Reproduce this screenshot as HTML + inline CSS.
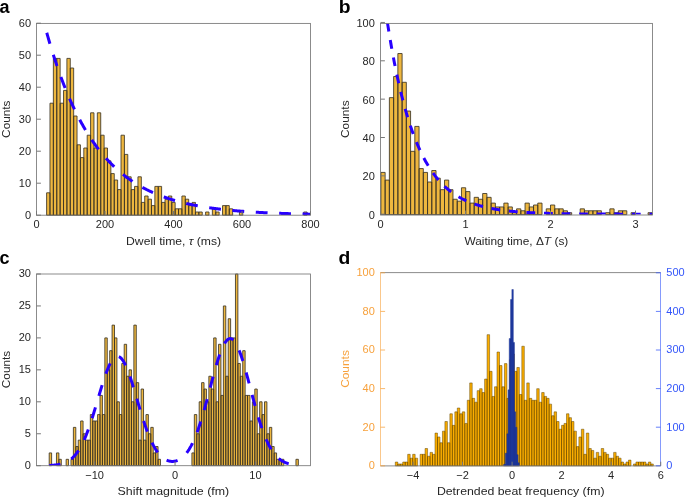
<!DOCTYPE html>
<html><head><meta charset="utf-8"><style>
html,body{margin:0;padding:0;background:#fff;overflow:hidden;}
svg{display:block;will-change:transform;}
.t{font-family:"Liberation Sans", sans-serif;font-size:11px;fill:#262626;}
.p{font-family:"Liberation Sans", sans-serif;font-size:18px;font-weight:bold;fill:#000;}
</style></head><body>
<svg width="685" height="498" viewBox="0 0 685 498">
<clipPath id="ca"><rect x="36.5" y="23.4" width="274.0" height="191.79999999999998"/></clipPath>
<path d="M46.6 215.2h3.38v-22.4h-3.38zM49.98 215.2h3.38v-112h-3.38zM53.37 215.2h3.38v-156.8h-3.38zM56.75 215.2h3.38v-156.8h-3.38zM60.13 215.2h3.38v-112h-3.38zM63.52 215.2h3.38v-124.8h-3.38zM66.9 215.2h3.38v-156.8h-3.38zM70.28 215.2h3.38v-147.2h-3.38zM73.66 215.2h3.38v-99.2h-3.38zM77.05 215.2h3.38v-70.4h-3.38zM80.43 215.2h3.38v-57.6h-3.38zM83.81 215.2h3.38v-67.2h-3.38zM87.2 215.2h3.38v-80h-3.38zM90.58 215.2h3.38v-102.4h-3.38zM93.96 215.2h3.38v-67.2h-3.38zM97.34 215.2h3.38v-102.4h-3.38zM100.73 215.2h3.38v-80h-3.38zM104.11 215.2h3.38v-67.2h-3.38zM107.49 215.2h3.38v-54.4h-3.38zM110.88 215.2h3.38v-41.6h-3.38zM114.26 215.2h3.38v-35.2h-3.38zM117.64 215.2h3.38v-25.6h-3.38zM121.03 215.2h3.38v-80h-3.38zM124.41 215.2h3.38v-60.8h-3.38zM127.79 215.2h3.38v-38.4h-3.38zM131.18 215.2h3.38v-25.6h-3.38zM134.56 215.2h3.38v-28.8h-3.38zM137.94 215.2h3.38v-38.4h-3.38zM141.32 215.2h3.38v-12.8h-3.38zM144.71 215.2h3.38v-19.2h-3.38zM148.09 215.2h3.38v-16h-3.38zM151.47 215.2h3.38v-9.6h-3.38zM154.86 215.2h3.38v-28.8h-3.38zM158.24 215.2h3.38v-28.8h-3.38zM161.62 215.2h3.38v-12.8h-3.38zM165 215.2h3.38v-16h-3.38zM168.39 215.2h3.38v-19.2h-3.38zM171.77 215.2h3.38v-12.8h-3.38zM175.15 215.2h3.38v-6.4h-3.38zM178.54 215.2h3.38v-6.4h-3.38zM181.92 215.2h3.38v-19.2h-3.38zM185.3 215.2h3.38v-16h-3.38zM188.69 215.2h3.38v-9.6h-3.38zM192.07 215.2h3.38v-12.8h-3.38zM195.45 215.2h3.38v-3.2h-3.38zM198.84 215.2h3.38v-3.2h-3.38zM205.6 215.2h3.38v-3.2h-3.38zM212.37 215.2h3.38v-6.4h-3.38zM215.75 215.2h3.38v-3.2h-3.38zM222.52 215.2h3.38v-9.6h-3.38zM225.9 215.2h3.38v-9.6h-3.38zM229.28 215.2h3.38v-6.4h-3.38zM239.43 215.2h3.38v-3.2h-3.38zM303.71 215.2h3.38v-3.2h-3.38z" fill="#EEB73F" stroke="#3d3626" stroke-width="0.85"/>
<path d="M46.77 32.75 L47.43 35.1 L48.09 37.42 L48.75 39.71 L49.41 41.97 L50.07 44.2 L50.73 46.4 L51.39 48.58 L52.05 50.72 L52.71 52.84 L53.37 54.93 L54.03 57 L54.69 59.03 L55.35 61.04 L56.01 63.03 L56.66 64.99 L57.32 66.92 L57.98 68.83 L58.64 70.72 L59.3 72.58 L59.96 74.42 L60.62 76.23 L61.28 78.02 L61.94 79.79 L62.6 81.53 L63.26 83.25 L63.92 84.95 L64.58 86.63 L65.24 88.29 L65.9 89.92 L66.55 91.53 L67.21 93.13 L67.87 94.7 L68.53 96.25 L69.19 97.78 L69.85 99.29 L70.51 100.79 L71.17 102.26 L71.83 103.72 L72.49 105.15 L73.15 106.57 L73.81 107.97 L74.47 109.35 L75.13 110.71 L75.78 112.06 L76.44 113.39 L77.1 114.7 L77.76 115.99 L78.42 117.27 L79.08 118.53 L79.74 119.78 L80.4 121.01 L81.06 122.22 L81.72 123.42 L82.38 124.6 L83.04 125.76 L83.7 126.92 L84.36 128.05 L85.02 129.18 L85.67 130.28 L86.33 131.38 L86.99 132.46 L87.65 133.52 L88.31 134.57 L88.97 135.61 L89.63 136.64 L90.29 137.65 L90.95 138.65 L91.61 139.63 L92.27 140.61 L92.93 141.57 L93.59 142.52 L94.25 143.45 L94.9 144.38 L95.56 145.29 L96.22 146.19 L96.88 147.08 L97.54 147.96 L98.2 148.82 L98.86 149.68 L99.52 150.52 L100.18 151.35 L100.84 152.18 L101.5 152.99 L102.16 153.79 L102.82 154.58 L103.48 155.36 L104.14 156.13 L104.79 156.89 L105.45 157.64 L106.11 158.38 L106.77 159.12 L107.43 159.84 L108.09 160.55 L108.75 161.26 L109.41 161.95 L110.07 162.64 L110.73 163.31 L111.39 163.98 L112.05 164.64 L112.71 165.29 L113.37 165.93 L114.02 166.57 L114.68 167.2 L115.34 167.81 L116 168.42 L116.66 169.03 L117.32 169.62 L117.98 170.21 L118.64 170.79 L119.3 171.36 L119.96 171.92 L120.62 172.48 L121.28 173.03 L121.94 173.58 L122.6 174.11 L123.26 174.64 L123.91 175.16 L124.57 175.68 L125.23 176.19 L125.89 176.69 L126.55 177.19 L127.21 177.68 L127.87 178.16 L128.53 178.64 L129.19 179.11 L129.85 179.57 L130.51 180.03 L131.17 180.48 L131.83 180.93 L132.49 181.37 L133.14 181.81 L133.8 182.24 L134.46 182.66 L135.12 183.08 L135.78 183.49 L136.44 183.9 L137.1 184.31 L137.76 184.7 L138.42 185.1 L139.08 185.48 L139.74 185.87 L140.4 186.25 L141.06 186.62 L141.72 186.99 L142.38 187.35 L143.03 187.71 L143.69 188.06 L144.35 188.41 L145.01 188.76 L145.67 189.1 L146.33 189.43 L146.99 189.77 L147.65 190.09 L148.31 190.42 L148.97 190.74 L149.63 191.05 L150.29 191.36 L150.95 191.67 L151.61 191.97 L152.27 192.27 L152.92 192.57 L153.58 192.86 L154.24 193.15 L154.9 193.43 L155.56 193.71 L156.22 193.99 L156.88 194.26 L157.54 194.53 L158.2 194.8 L158.86 195.06 L159.52 195.32 L160.18 195.57 L160.84 195.83 L161.5 196.08 L162.15 196.32 L162.81 196.57 L163.47 196.81 L164.13 197.04 L164.79 197.28 L165.45 197.51 L166.11 197.74 L166.77 197.96 L167.43 198.18 L168.09 198.4 L168.75 198.62 L169.41 198.83 L170.07 199.04 L170.73 199.25 L171.39 199.46 L172.04 199.66 L172.7 199.86 L173.36 200.06 L174.02 200.25 L174.68 200.44 L175.34 200.63 L176 200.82 L176.66 201.01 L177.32 201.19 L177.98 201.37 L178.64 201.55 L179.3 201.72 L179.96 201.9 L180.62 202.07 L181.27 202.24 L181.93 202.4 L182.59 202.57 L183.25 202.73 L183.91 202.89 L184.57 203.05 L185.23 203.21 L185.89 203.36 L186.55 203.51 L187.21 203.67 L187.87 203.81 L188.53 203.96 L189.19 204.11 L189.85 204.25 L190.51 204.39 L191.16 204.53 L191.82 204.67 L192.48 204.8 L193.14 204.94 L193.8 205.07 L194.46 205.2 L195.12 205.33 L195.78 205.45 L196.44 205.58 L197.1 205.7 L197.76 205.83 L198.42 205.95 L199.08 206.07 L199.74 206.18 L200.39 206.3 L201.05 206.41 L201.71 206.53 L202.37 206.64 L203.03 206.75 L203.69 206.86 L204.35 206.97 L205.01 207.07 L205.67 207.18 L206.33 207.28 L206.99 207.38 L207.65 207.48 L208.31 207.58 L208.97 207.68 L209.63 207.78 L210.28 207.87 L210.94 207.97 L211.6 208.06 L212.26 208.15 L212.92 208.24 L213.58 208.33 L214.24 208.42 L214.9 208.51 L215.56 208.59 L216.22 208.68 L216.88 208.76 L217.54 208.85 L218.2 208.93 L218.86 209.01 L219.51 209.09 L220.17 209.17 L220.83 209.24 L221.49 209.32 L222.15 209.4 L222.81 209.47 L223.47 209.55 L224.13 209.62 L224.79 209.69 L225.45 209.76 L226.11 209.83 L226.77 209.9 L227.43 209.97 L228.09 210.04 L228.75 210.1 L229.4 210.17 L230.06 210.23 L230.72 210.3 L231.38 210.36 L232.04 210.42 L232.7 210.48 L233.36 210.54 L234.02 210.6 L234.68 210.66 L235.34 210.72 L236 210.78 L236.66 210.84 L237.32 210.89 L237.98 210.95 L238.63 211 L239.29 211.06 L239.95 211.11 L240.61 211.16 L241.27 211.22 L241.93 211.27 L242.59 211.32 L243.25 211.37 L243.91 211.42 L244.57 211.47 L245.23 211.51 L245.89 211.56 L246.55 211.61 L247.21 211.65 L247.87 211.7 L248.52 211.75 L249.18 211.79 L249.84 211.83 L250.5 211.88 L251.16 211.92 L251.82 211.96 L252.48 212 L253.14 212.04 L253.8 212.09 L254.46 212.13 L255.12 212.17 L255.78 212.2 L256.44 212.24 L257.1 212.28 L257.75 212.32 L258.41 212.36 L259.07 212.39 L259.73 212.43 L260.39 212.46 L261.05 212.5 L261.71 212.53 L262.37 212.57 L263.03 212.6 L263.69 212.64 L264.35 212.67 L265.01 212.7 L265.67 212.73 L266.33 212.77 L266.99 212.8 L267.64 212.83 L268.3 212.86 L268.96 212.89 L269.62 212.92 L270.28 212.95 L270.94 212.98 L271.6 213.01 L272.26 213.03 L272.92 213.06 L273.58 213.09 L274.24 213.12 L274.9 213.14 L275.56 213.17 L276.22 213.2 L276.88 213.22 L277.53 213.25 L278.19 213.27 L278.85 213.3 L279.51 213.32 L280.17 213.35 L280.83 213.37 L281.49 213.39 L282.15 213.42 L282.81 213.44 L283.47 213.46 L284.13 213.48 L284.79 213.51 L285.45 213.53 L286.11 213.55 L286.76 213.57 L287.42 213.59 L288.08 213.61 L288.74 213.63 L289.4 213.65 L290.06 213.67 L290.72 213.69 L291.38 213.71 L292.04 213.73 L292.7 213.75 L293.36 213.77 L294.02 213.79 L294.68 213.81 L295.34 213.82 L296 213.84 L296.65 213.86 L297.31 213.88 L297.97 213.89 L298.63 213.91 L299.29 213.93 L299.95 213.94 L300.61 213.96 L301.27 213.98 L301.93 213.99 L302.59 214.01 L303.25 214.02 L303.91 214.04 L304.57 214.05 L305.23 214.07 L305.88 214.08 L306.54 214.1 L307.2 214.11 L307.86 214.12 L308.52 214.14 L309.18 214.15 L309.84 214.17 L310.5 214.18" fill="none" stroke="#2800FF" stroke-width="3" stroke-dasharray="11.8 11.6" stroke-dashoffset="0.4" clip-path="url(#ca)"/>
<rect x="36.5" y="23.4" width="274.0" height="191.79999999999998" fill="none" stroke="#777777" stroke-width="0.85"/>
<path d="M36.5 215.2h4.4M36.5 183.2h4.4M36.5 151.2h4.4M36.5 119.2h4.4M36.5 87.2h4.4M36.5 55.2h4.4M36.5 23.2h4.4M36.5 215.2v-4.2M105 215.2v-4.2M173.5 215.2v-4.2M242 215.2v-4.2M310.5 215.2v-4.2" stroke="#777777" stroke-width="1" fill="none"/>
<text x="31.1" y="218.8" text-anchor="end" class="t">0</text>
<text x="31.1" y="186.8" text-anchor="end" class="t">10</text>
<text x="31.1" y="154.8" text-anchor="end" class="t">20</text>
<text x="31.1" y="122.8" text-anchor="end" class="t">30</text>
<text x="31.1" y="90.8" text-anchor="end" class="t">40</text>
<text x="31.1" y="58.8" text-anchor="end" class="t">50</text>
<text x="31.1" y="26.8" text-anchor="end" class="t">60</text>
<text x="36.5" y="227.9" text-anchor="middle" class="t">0</text>
<text x="105" y="227.9" text-anchor="middle" class="t">200</text>
<text x="173.5" y="227.9" text-anchor="middle" class="t">400</text>
<text x="242" y="227.9" text-anchor="middle" class="t">600</text>
<text x="310.5" y="227.9" text-anchor="middle" class="t">800</text>
<text x="173.6" y="244.6" text-anchor="middle" class="t" textLength="95" lengthAdjust="spacingAndGlyphs">Dwell time, <tspan font-style="italic">τ</tspan> (ms)</text>
<text transform="translate(10.1 119.2) rotate(-90)" text-anchor="middle" class="t" style="font-size:11.6px" textLength="37.4" lengthAdjust="spacingAndGlyphs">Counts</text>
<text x="-0.6" y="12.6" class="p">a</text>
<clipPath id="cb"><rect x="380.5" y="23.4" width="272.0" height="191.2"/></clipPath>
<path d="M380.9 214.6h4.24v-42.19h-4.24zM385.14 214.6h4.24v-34.52h-4.24zM389.38 214.6h4.24v-116.97h-4.24zM393.62 214.6h4.24v-138.06h-4.24zM397.86 214.6h4.24v-161.07h-4.24zM402.1 214.6h4.24v-132.31h-4.24zM406.34 214.6h4.24v-103.55h-4.24zM410.58 214.6h4.24v-63.28h-4.24zM414.82 214.6h4.24v-88.2h-4.24zM419.06 214.6h4.24v-46.02h-4.24zM423.3 214.6h4.24v-42.19h-4.24zM427.54 214.6h4.24v-32.6h-4.24zM431.78 214.6h4.24v-44.1h-4.24zM436.02 214.6h4.24v-36.43h-4.24zM440.26 214.6h4.24v-24.93h-4.24zM444.5 214.6h4.24v-34.52h-4.24zM448.74 214.6h4.24v-24.93h-4.24zM452.98 214.6h4.24v-15.34h-4.24zM457.22 214.6h4.24v-13.42h-4.24zM461.46 214.6h4.24v-26.84h-4.24zM465.7 214.6h4.24v-23.01h-4.24zM469.94 214.6h4.24v-11.5h-4.24zM474.18 214.6h4.24v-17.26h-4.24zM478.42 214.6h4.24v-15.34h-4.24zM482.66 214.6h4.24v-21.09h-4.24zM486.9 214.6h4.24v-17.26h-4.24zM491.14 214.6h4.24v-11.5h-4.24zM495.38 214.6h4.24v-7.67h-4.24zM499.62 214.6h4.24v-7.67h-4.24zM503.86 214.6h4.24v-11.5h-4.24zM508.1 214.6h4.24v-7.67h-4.24zM512.34 214.6h4.24v-1.92h-4.24zM516.58 214.6h4.24v-5.75h-4.24zM520.82 214.6h4.24v-3.83h-4.24zM525.06 214.6h4.24v-11.5h-4.24zM529.3 214.6h4.24v-7.67h-4.24zM533.54 214.6h4.24v-9.59h-4.24zM537.78 214.6h4.24v-11.5h-4.24zM546.26 214.6h4.24v-5.75h-4.24zM550.5 214.6h4.24v-9.59h-4.24zM554.74 214.6h4.24v-5.75h-4.24zM558.98 214.6h4.24v-5.75h-4.24zM563.22 214.6h4.24v-3.83h-4.24zM567.46 214.6h4.24v-1.92h-4.24zM580.18 214.6h4.24v-5.75h-4.24zM584.42 214.6h4.24v-3.83h-4.24zM588.66 214.6h4.24v-3.83h-4.24zM592.9 214.6h4.24v-3.83h-4.24zM597.14 214.6h4.24v-3.83h-4.24zM605.62 214.6h4.24v-1.92h-4.24zM609.86 214.6h4.24v-5.75h-4.24zM614.1 214.6h4.24v-1.92h-4.24zM618.34 214.6h4.24v-3.83h-4.24zM622.58 214.6h4.24v-3.83h-4.24zM631.06 214.6h4.24v-1.92h-4.24zM648.02 214.6h4.24v-1.92h-4.24z" fill="#EEB73F" stroke="#3d3626" stroke-width="0.85"/>
<path d="M380.5 -27.92 L380.95 -24.25 L381.41 -20.63 L381.86 -17.07 L382.31 -13.56 L382.77 -10.1 L383.22 -6.7 L383.67 -3.35 L384.13 -0.05 L384.58 3.21 L385.03 6.41 L385.49 9.56 L385.94 12.67 L386.39 15.72 L386.85 18.74 L387.3 21.7 L387.75 24.62 L388.21 27.5 L388.66 30.33 L389.11 33.12 L389.57 35.87 L390.02 38.58 L390.47 41.24 L390.93 43.87 L391.38 46.45 L391.83 49 L392.29 51.5 L392.74 53.97 L393.19 56.4 L393.65 58.8 L394.1 61.16 L394.55 63.48 L395.01 65.76 L395.46 68.02 L395.91 70.24 L396.37 72.42 L396.82 74.57 L397.27 76.69 L397.73 78.78 L398.18 80.83 L398.63 82.86 L399.09 84.85 L399.54 86.81 L399.99 88.74 L400.45 90.65 L400.9 92.52 L401.35 94.37 L401.81 96.19 L402.26 97.98 L402.71 99.74 L403.17 101.48 L403.62 103.19 L404.07 104.87 L404.53 106.53 L404.98 108.17 L405.43 109.78 L405.89 111.36 L406.34 112.92 L406.79 114.46 L407.25 115.97 L407.7 117.46 L408.15 118.93 L408.61 120.37 L409.06 121.8 L409.51 123.2 L409.97 124.58 L410.42 125.94 L410.87 127.28 L411.33 128.6 L411.78 129.9 L412.23 131.18 L412.69 132.44 L413.14 133.68 L413.59 134.9 L414.05 136.1 L414.5 137.29 L414.95 138.46 L415.41 139.6 L415.86 140.74 L416.31 141.85 L416.77 142.95 L417.22 144.03 L417.67 145.1 L418.13 146.14 L418.58 147.18 L419.03 148.19 L419.49 149.2 L419.94 150.18 L420.39 151.15 L420.85 152.11 L421.3 153.05 L421.75 153.98 L422.21 154.89 L422.66 155.79 L423.11 156.68 L423.57 157.55 L424.02 158.41 L424.47 159.26 L424.93 160.09 L425.38 160.91 L425.83 161.72 L426.29 162.52 L426.74 163.3 L427.19 164.07 L427.65 164.84 L428.1 165.58 L428.55 166.32 L429.01 167.05 L429.46 167.76 L429.91 168.47 L430.37 169.16 L430.82 169.85 L431.27 170.52 L431.73 171.18 L432.18 171.83 L432.63 172.48 L433.09 173.11 L433.54 173.73 L433.99 174.35 L434.45 174.95 L434.9 175.55 L435.35 176.14 L435.81 176.71 L436.26 177.28 L436.71 177.84 L437.17 178.39 L437.62 178.94 L438.07 179.47 L438.53 180 L438.98 180.52 L439.43 181.03 L439.89 181.53 L440.34 182.03 L440.79 182.52 L441.25 183 L441.7 183.47 L442.15 183.94 L442.61 184.4 L443.06 184.85 L443.51 185.29 L443.97 185.73 L444.42 186.16 L444.87 186.59 L445.33 187.01 L445.78 187.42 L446.23 187.83 L446.69 188.23 L447.14 188.62 L447.59 189.01 L448.05 189.39 L448.5 189.77 L448.95 190.14 L449.41 190.5 L449.86 190.86 L450.31 191.22 L450.77 191.57 L451.22 191.91 L451.67 192.25 L452.13 192.58 L452.58 192.91 L453.03 193.23 L453.49 193.55 L453.94 193.86 L454.39 194.17 L454.85 194.48 L455.3 194.78 L455.75 195.07 L456.21 195.36 L456.66 195.65 L457.11 195.93 L457.57 196.21 L458.02 196.48 L458.47 196.75 L458.93 197.01 L459.38 197.27 L459.83 197.53 L460.29 197.78 L460.74 198.03 L461.19 198.28 L461.65 198.52 L462.1 198.76 L462.55 198.99 L463.01 199.22 L463.46 199.45 L463.91 199.67 L464.37 199.89 L464.82 200.11 L465.27 200.32 L465.73 200.54 L466.18 200.74 L466.63 200.95 L467.09 201.15 L467.54 201.35 L467.99 201.54 L468.45 201.73 L468.9 201.92 L469.35 202.11 L469.81 202.29 L470.26 202.47 L470.71 202.65 L471.17 202.83 L471.62 203 L472.07 203.17 L472.53 203.34 L472.98 203.5 L473.43 203.66 L473.89 203.82 L474.34 203.98 L474.79 204.14 L475.25 204.29 L475.7 204.44 L476.15 204.59 L476.61 204.73 L477.06 204.88 L477.51 205.02 L477.97 205.16 L478.42 205.29 L478.87 205.43 L479.33 205.56 L479.78 205.69 L480.23 205.82 L480.69 205.95 L481.14 206.07 L481.59 206.2 L482.05 206.32 L482.5 206.44 L482.95 206.56 L483.41 206.67 L483.86 206.79 L484.31 206.9 L484.77 207.01 L485.22 207.12 L485.67 207.23 L486.13 207.33 L486.58 207.44 L487.03 207.54 L487.49 207.64 L487.94 207.74 L488.39 207.84 L488.85 207.93 L489.3 208.03 L489.75 208.12 L490.21 208.22 L490.66 208.31 L491.11 208.4 L491.57 208.48 L492.02 208.57 L492.47 208.66 L492.93 208.74 L493.38 208.82 L493.83 208.9 L494.29 208.99 L494.74 209.06 L495.19 209.14 L495.65 209.22 L496.1 209.29 L496.55 209.37 L497.01 209.44 L497.46 209.51 L497.91 209.59 L498.37 209.66 L498.82 209.72 L499.27 209.79 L499.73 209.86 L500.18 209.93 L500.63 209.99 L501.09 210.05 L501.54 210.12 L501.99 210.18 L502.45 210.24 L502.9 210.3 L503.35 210.36 L503.81 210.42 L504.26 210.47 L504.71 210.53 L505.17 210.59 L505.62 210.64 L506.07 210.7 L506.53 210.75 L506.98 210.8 L507.43 210.85 L507.89 210.9 L508.34 210.95 L508.79 211 L509.25 211.05 L509.7 211.1 L510.15 211.15 L510.61 211.19 L511.06 211.24 L511.51 211.28 L511.97 211.33 L512.42 211.37 L512.87 211.41 L513.33 211.46 L513.78 211.5 L514.23 211.54 L514.69 211.58 L515.14 211.62 L515.59 211.66 L516.05 211.7 L516.5 211.73 L516.95 211.77 L517.41 211.81 L517.86 211.85 L518.31 211.88 L518.77 211.92 L519.22 211.95 L519.67 211.98 L520.13 212.02 L520.58 212.05 L521.03 212.08 L521.49 212.12 L521.94 212.15 L522.39 212.18 L522.85 212.21 L523.3 212.24 L523.75 212.27 L524.21 212.3 L524.66 212.33 L525.11 212.36 L525.57 212.38 L526.02 212.41 L526.47 212.44 L526.93 212.47 L527.38 212.49 L527.83 212.52 L528.29 212.54 L528.74 212.57 L529.19 212.59 L529.65 212.62 L530.1 212.64 L530.55 212.67 L531.01 212.69 L531.46 212.71 L531.91 212.73 L532.37 212.76 L532.82 212.78 L533.27 212.8 L533.73 212.82 L534.18 212.84 L534.63 212.86 L535.09 212.88 L535.54 212.9 L535.99 212.92 L536.45 212.94 L536.9 212.96 L537.35 212.98 L537.81 213 L538.26 213.02 L538.71 213.03 L539.17 213.05 L539.62 213.07 L540.07 213.09 L540.53 213.1 L540.98 213.12 L541.43 213.14 L541.89 213.15 L542.34 213.17 L542.79 213.18 L543.25 213.2 L543.7 213.22 L544.15 213.23 L544.61 213.24 L545.06 213.26 L545.51 213.27 L545.97 213.29 L546.42 213.3 L546.87 213.32 L547.33 213.33 L547.78 213.34 L548.23 213.35 L548.69 213.37 L549.14 213.38 L549.59 213.39 L550.05 213.4 L550.5 213.42 L550.95 213.43 L551.41 213.44 L551.86 213.45 L552.31 213.46 L552.77 213.47 L553.22 213.49 L553.67 213.5 L554.13 213.51 L554.58 213.52 L555.03 213.53 L555.49 213.54 L555.94 213.55 L556.39 213.56 L556.85 213.57 L557.3 213.58 L557.75 213.59 L558.21 213.6 L558.66 213.61 L559.11 213.61 L559.57 213.62 L560.02 213.63 L560.47 213.64 L560.93 213.65 L561.38 213.66 L561.83 213.67 L562.29 213.67 L562.74 213.68 L563.19 213.69 L563.65 213.7 L564.1 213.71 L564.55 213.71 L565.01 213.72 L565.46 213.73 L565.91 213.73 L566.37 213.74 L566.82 213.75 L567.27 213.76 L567.73 213.76 L568.18 213.77 L568.63 213.78 L569.09 213.78 L569.54 213.79 L569.99 213.79 L570.45 213.8 L570.9 213.81 L571.35 213.81 L571.81 213.82 L572.26 213.82 L572.71 213.83 L573.17 213.84 L573.62 213.84 L574.07 213.85 L574.53 213.85 L574.98 213.86 L575.43 213.86 L575.89 213.87 L576.34 213.87 L576.79 213.88 L577.25 213.88 L577.7 213.89 L578.15 213.89 L578.61 213.9 L579.06 213.9 L579.51 213.91 L579.97 213.91 L580.42 213.91 L580.87 213.92 L581.33 213.92 L581.78 213.93 L582.23 213.93 L582.69 213.94 L583.14 213.94 L583.59 213.94 L584.05 213.95 L584.5 213.95 L584.95 213.96 L585.41 213.96 L585.86 213.96 L586.31 213.97 L586.77 213.97 L587.22 213.97 L587.67 213.98 L588.13 213.98 L588.58 213.98 L589.03 213.99 L589.49 213.99 L589.94 213.99 L590.39 214 L590.85 214 L591.3 214 L591.75 214.01 L592.21 214.01 L592.66 214.01 L593.11 214.01 L593.57 214.02 L594.02 214.02 L594.47 214.02 L594.93 214.03 L595.38 214.03 L595.83 214.03 L596.29 214.03 L596.74 214.04 L597.19 214.04 L597.65 214.04 L598.1 214.04 L598.55 214.05 L599.01 214.05 L599.46 214.05 L599.91 214.05 L600.37 214.05 L600.82 214.06 L601.27 214.06 L601.73 214.06 L602.18 214.06 L602.63 214.07 L603.09 214.07 L603.54 214.07 L603.99 214.07 L604.45 214.07 L604.9 214.07 L605.35 214.08 L605.81 214.08 L606.26 214.08 L606.71 214.08 L607.17 214.08 L607.62 214.09 L608.07 214.09 L608.53 214.09 L608.98 214.09 L609.43 214.09 L609.89 214.09 L610.34 214.1 L610.79 214.1 L611.25 214.1 L611.7 214.1 L612.15 214.1 L612.61 214.1 L613.06 214.11 L613.51 214.11 L613.97 214.11 L614.42 214.11 L614.87 214.11 L615.33 214.11 L615.78 214.11 L616.23 214.11 L616.69 214.12 L617.14 214.12 L617.59 214.12 L618.05 214.12 L618.5 214.12 L618.95 214.12 L619.41 214.12 L619.86 214.12 L620.31 214.13 L620.77 214.13 L621.22 214.13 L621.67 214.13 L622.13 214.13 L622.58 214.13 L623.03 214.13 L623.49 214.13 L623.94 214.13 L624.39 214.14 L624.85 214.14 L625.3 214.14 L625.75 214.14 L626.21 214.14 L626.66 214.14 L627.11 214.14 L627.57 214.14 L628.02 214.14 L628.47 214.14 L628.93 214.14 L629.38 214.15 L629.83 214.15 L630.29 214.15 L630.74 214.15 L631.19 214.15 L631.65 214.15 L632.1 214.15 L632.55 214.15 L633.01 214.15 L633.46 214.15 L633.91 214.15 L634.37 214.15 L634.82 214.15 L635.27 214.16 L635.73 214.16 L636.18 214.16 L636.63 214.16 L637.09 214.16 L637.54 214.16 L637.99 214.16 L638.45 214.16 L638.9 214.16 L639.35 214.16 L639.81 214.16 L640.26 214.16 L640.71 214.16 L641.17 214.16 L641.62 214.16 L642.07 214.16 L642.53 214.16 L642.98 214.17 L643.43 214.17 L643.89 214.17 L644.34 214.17 L644.79 214.17 L645.25 214.17 L645.7 214.17 L646.15 214.17 L646.61 214.17 L647.06 214.17 L647.51 214.17 L647.97 214.17 L648.42 214.17 L648.87 214.17 L649.33 214.17 L649.78 214.17 L650.23 214.17 L650.69 214.17 L651.14 214.17 L651.59 214.17 L652.05 214.17 L652.5 214.17" fill="none" stroke="#2800FF" stroke-width="3" stroke-dasharray="8.8 8.78" stroke-dashoffset="1.59" clip-path="url(#cb)"/>
<rect x="380.5" y="23.4" width="272.0" height="191.6" fill="none" stroke="#777777" stroke-width="0.85"/>
<path d="M380.5 214.2h4.4M380.5 175.85h4.4M380.5 137.5h4.4M380.5 99.15h4.4M380.5 60.8h4.4M380.5 22.45h4.4M380.5 215.0v-4.4M465.5 215.0v-4.4M550.5 215.0v-4.4M635.5 215.0v-4.4" stroke="#777777" stroke-width="1" fill="none"/>
<text x="374.8" y="218.6" text-anchor="end" class="t">0</text>
<text x="374.8" y="180.25" text-anchor="end" class="t">20</text>
<text x="374.8" y="141.9" text-anchor="end" class="t">40</text>
<text x="374.8" y="103.55" text-anchor="end" class="t">60</text>
<text x="374.8" y="65.2" text-anchor="end" class="t">80</text>
<text x="374.8" y="26.85" text-anchor="end" class="t">100</text>
<text x="380.5" y="227.9" text-anchor="middle" class="t">0</text>
<text x="465.5" y="227.9" text-anchor="middle" class="t">1</text>
<text x="550.5" y="227.9" text-anchor="middle" class="t">2</text>
<text x="635.5" y="227.9" text-anchor="middle" class="t">3</text>
<text x="516.4" y="245" text-anchor="middle" class="t" textLength="103.8" lengthAdjust="spacingAndGlyphs">Waiting time, Δ<tspan font-style="italic">T</tspan> (s)</text>
<text transform="translate(349.3 119.2) rotate(-90)" text-anchor="middle" class="t" style="font-size:11.6px" textLength="37.6" lengthAdjust="spacingAndGlyphs">Counts</text>
<text x="338.7" y="12.5" class="p" textLength="11.8" lengthAdjust="spacingAndGlyphs">b</text>
<clipPath id="cc"><rect x="36.5" y="274.0" width="274.0" height="191.7"/></clipPath>
<path d="M49.2 465.7h2.42v-12.78h-2.42zM56.46 465.7h2.42v-12.78h-2.42zM58.88 465.7h2.42v-6.39h-2.42zM66.13 465.7h2.42v-6.39h-2.42zM70.97 465.7h2.42v-6.39h-2.42zM73.39 465.7h2.42v-38.34h-2.42zM75.81 465.7h2.42v-19.17h-2.42zM78.23 465.7h2.42v-25.56h-2.42zM80.65 465.7h2.42v-44.73h-2.42zM83.07 465.7h2.42v-31.95h-2.42zM85.49 465.7h2.42v-25.56h-2.42zM87.9 465.7h2.42v-25.56h-2.42zM90.32 465.7h2.42v-51.12h-2.42zM92.74 465.7h2.42v-44.73h-2.42zM95.16 465.7h2.42v-44.73h-2.42zM97.58 465.7h2.42v-51.12h-2.42zM100 465.7h2.42v-70.29h-2.42zM102.42 465.7h2.42v-51.12h-2.42zM104.84 465.7h2.42v-127.8h-2.42zM107.26 465.7h2.42v-95.85h-2.42zM109.68 465.7h2.42v-115.02h-2.42zM112.09 465.7h2.42v-140.58h-2.42zM114.51 465.7h2.42v-127.8h-2.42zM116.93 465.7h2.42v-63.9h-2.42zM119.35 465.7h2.42v-51.12h-2.42zM121.77 465.7h2.42v-102.24h-2.42zM124.19 465.7h2.42v-121.41h-2.42zM126.61 465.7h2.42v-89.46h-2.42zM129.03 465.7h2.42v-95.85h-2.42zM131.45 465.7h2.42v-63.9h-2.42zM133.87 465.7h2.42v-140.58h-2.42zM136.28 465.7h2.42v-83.07h-2.42zM138.7 465.7h2.42v-25.56h-2.42zM141.12 465.7h2.42v-76.68h-2.42zM143.54 465.7h2.42v-25.56h-2.42zM145.96 465.7h2.42v-51.12h-2.42zM148.38 465.7h2.42v-31.95h-2.42zM150.8 465.7h2.42v-38.34h-2.42zM153.22 465.7h2.42v-12.78h-2.42zM155.64 465.7h2.42v-19.17h-2.42zM158.06 465.7h2.42v-6.39h-2.42zM191.92 465.7h2.42v-12.78h-2.42zM194.34 465.7h2.42v-51.12h-2.42zM196.76 465.7h2.42v-31.95h-2.42zM199.18 465.7h2.42v-63.9h-2.42zM201.6 465.7h2.42v-83.07h-2.42zM204.02 465.7h2.42v-76.68h-2.42zM206.44 465.7h2.42v-63.9h-2.42zM208.85 465.7h2.42v-89.46h-2.42zM211.27 465.7h2.42v-76.68h-2.42zM213.69 465.7h2.42v-127.8h-2.42zM216.11 465.7h2.42v-63.9h-2.42zM218.53 465.7h2.42v-121.41h-2.42zM220.95 465.7h2.42v-70.29h-2.42zM223.37 465.7h2.42v-159.75h-2.42zM225.79 465.7h2.42v-89.46h-2.42zM228.21 465.7h2.42v-146.97h-2.42zM230.62 465.7h2.42v-127.8h-2.42zM233.04 465.7h2.42v-127.8h-2.42zM235.46 465.7h2.42v-191.7h-2.42zM237.88 465.7h2.42v-102.24h-2.42zM240.3 465.7h2.42v-89.46h-2.42zM242.72 465.7h2.42v-115.02h-2.42zM245.14 465.7h2.42v-70.29h-2.42zM247.56 465.7h2.42v-70.29h-2.42zM249.98 465.7h2.42v-44.73h-2.42zM252.4 465.7h2.42v-63.9h-2.42zM254.81 465.7h2.42v-76.68h-2.42zM257.23 465.7h2.42v-31.95h-2.42zM259.65 465.7h2.42v-63.9h-2.42zM262.07 465.7h2.42v-51.12h-2.42zM264.49 465.7h2.42v-63.9h-2.42zM266.91 465.7h2.42v-31.95h-2.42zM269.33 465.7h2.42v-38.34h-2.42zM271.75 465.7h2.42v-19.17h-2.42zM274.17 465.7h2.42v-12.78h-2.42zM276.59 465.7h2.42v-6.39h-2.42zM279 465.7h2.42v-6.39h-2.42zM281.42 465.7h2.42v-6.39h-2.42zM295.94 465.7h2.42v-6.39h-2.42z" fill="#EEB73F" stroke="#3d3626" stroke-width="0.85"/>
<path d="M48.82 465.46 L49.24 465.45 L49.65 465.43 L50.07 465.41 L50.49 465.38 L50.9 465.36 L51.32 465.33 L51.73 465.31 L52.15 465.28 L52.57 465.25 L52.98 465.21 L53.4 465.18 L53.81 465.14 L54.23 465.1 L54.65 465.06 L55.06 465.01 L55.48 464.97 L55.9 464.92 L56.31 464.86 L56.73 464.8 L57.14 464.74 L57.56 464.68 L57.98 464.61 L58.39 464.54 L58.81 464.46 L59.22 464.38 L59.64 464.3 L60.06 464.21 L60.47 464.11 L60.89 464.01 L61.3 463.9 L61.72 463.79 L62.14 463.67 L62.55 463.55 L62.97 463.41 L63.38 463.28 L63.8 463.13 L64.22 462.98 L64.63 462.81 L65.05 462.65 L65.46 462.47 L65.88 462.28 L66.3 462.08 L66.71 461.88 L67.13 461.66 L67.55 461.44 L67.96 461.2 L68.38 460.96 L68.79 460.7 L69.21 460.43 L69.63 460.15 L70.04 459.85 L70.46 459.54 L70.87 459.22 L71.29 458.89 L71.71 458.54 L72.12 458.18 L72.54 457.8 L72.95 457.41 L73.37 457 L73.79 456.58 L74.2 456.14 L74.62 455.68 L75.03 455.21 L75.45 454.71 L75.87 454.2 L76.28 453.68 L76.7 453.13 L77.11 452.57 L77.53 451.98 L77.95 451.38 L78.36 450.75 L78.78 450.11 L79.2 449.45 L79.61 448.76 L80.03 448.06 L80.44 447.33 L80.86 446.58 L81.28 445.81 L81.69 445.02 L82.11 444.21 L82.52 443.37 L82.94 442.52 L83.36 441.64 L83.77 440.74 L84.19 439.81 L84.6 438.87 L85.02 437.9 L85.44 436.91 L85.85 435.9 L86.27 434.87 L86.68 433.82 L87.1 432.74 L87.52 431.65 L87.93 430.53 L88.35 429.4 L88.76 428.24 L89.18 427.07 L89.6 425.87 L90.01 424.66 L90.43 423.43 L90.85 422.18 L91.26 420.92 L91.68 419.64 L92.09 418.35 L92.51 417.04 L92.93 415.71 L93.34 414.38 L93.76 413.03 L94.17 411.67 L94.59 410.31 L95.01 408.93 L95.42 407.54 L95.84 406.15 L96.25 404.75 L96.67 403.35 L97.09 401.94 L97.5 400.54 L97.92 399.13 L98.33 397.72 L98.75 396.31 L99.17 394.9 L99.58 393.5 L100 392.11 L100.41 390.72 L100.83 389.34 L101.25 387.97 L101.66 386.61 L102.08 385.26 L102.5 383.93 L102.91 382.61 L103.33 381.31 L103.74 380.03 L104.16 378.77 L104.58 377.53 L104.99 376.31 L105.41 375.12 L105.82 373.95 L106.24 372.8 L106.66 371.69 L107.07 370.61 L107.49 369.55 L107.9 368.53 L108.32 367.55 L108.74 366.59 L109.15 365.68 L109.57 364.8 L109.98 363.95 L110.4 363.15 L110.82 362.39 L111.23 361.67 L111.65 360.99 L112.06 360.36 L112.48 359.77 L112.9 359.22 L113.31 358.72 L113.73 358.26 L114.14 357.86 L114.56 357.5 L114.98 357.18 L115.39 356.92 L115.81 356.7 L116.23 356.54 L116.64 356.42 L117.06 356.35 L117.47 356.33 L117.89 356.36 L118.31 356.44 L118.72 356.57 L119.14 356.74 L119.55 356.97 L119.97 357.25 L120.39 357.57 L120.8 357.94 L121.22 358.36 L121.63 358.82 L122.05 359.33 L122.47 359.89 L122.88 360.49 L123.3 361.13 L123.71 361.82 L124.13 362.55 L124.55 363.32 L124.96 364.13 L125.38 364.98 L125.79 365.87 L126.21 366.79 L126.63 367.75 L127.04 368.75 L127.46 369.78 L127.88 370.84 L128.29 371.93 L128.71 373.05 L129.12 374.19 L129.54 375.37 L129.96 376.57 L130.37 377.79 L130.79 379.04 L131.2 380.3 L131.62 381.59 L132.04 382.89 L132.45 384.21 L132.87 385.55 L133.28 386.9 L133.7 388.26 L134.12 389.63 L134.53 391.02 L134.95 392.4 L135.36 393.8 L135.78 395.2 L136.2 396.61 L136.61 398.02 L137.03 399.43 L137.44 400.83 L137.86 402.24 L138.28 403.65 L138.69 405.05 L139.11 406.44 L139.53 407.84 L139.94 409.22 L140.36 410.59 L140.77 411.96 L141.19 413.31 L141.61 414.66 L142.02 415.99 L142.44 417.31 L142.85 418.61 L143.27 419.9 L143.69 421.18 L144.1 422.44 L144.52 423.68 L144.93 424.9 L145.35 426.11 L145.77 427.3 L146.18 428.47 L146.6 429.62 L147.01 430.75 L147.43 431.85 L147.85 432.94 L148.26 434.01 L148.68 435.06 L149.09 436.08 L149.51 437.08 L149.93 438.06 L150.34 439.02 L150.76 439.95 L151.18 440.87 L151.59 441.76 L152.01 442.63 L152.42 443.47 L152.84 444.3 L153.26 445.1 L153.67 445.88 L154.09 446.63 L154.5 447.37 L154.92 448.08 L155.34 448.77 L155.75 449.44 L156.17 450.09 L156.58 450.72 L157 451.32 L157.42 451.91 L157.83 452.47 L158.25 453.02 L158.66 453.54 L159.08 454.05 L159.5 454.53 L159.91 455 L160.33 455.45 L160.74 455.88 L161.16 456.29 L161.58 456.68 L161.99 457.06 L162.41 457.41 L162.83 457.76 L163.24 458.08 L163.66 458.39 L164.07 458.68 L164.49 458.95 L164.91 459.21 L165.32 459.46 L165.74 459.68 L166.15 459.9 L166.57 460.1 L166.99 460.28 L167.4 460.45 L167.82 460.6 L168.23 460.75 L168.65 460.87 L169.07 460.99 L169.48 461.09 L169.9 461.17 L170.31 461.24 L170.73 461.3 L171.15 461.35 L171.56 461.38 L171.98 461.4 L172.39 461.41 L172.81 461.4 L173.23 461.38 L173.64 461.35 L174.06 461.3 L174.48 461.25 L174.89 461.17 L175.31 461.09 L175.72 460.99 L176.14 460.87 L176.56 460.75 L176.97 460.61 L177.39 460.45 L177.8 460.28 L178.22 460.1 L178.64 459.9 L179.05 459.69 L179.47 459.46 L179.88 459.22 L180.3 458.96 L180.72 458.69 L181.13 458.4 L181.55 458.09 L181.96 457.77 L182.38 457.43 L182.8 457.07 L183.21 456.7 L183.63 456.31 L184.04 455.9 L184.46 455.47 L184.88 455.02 L185.29 454.56 L185.71 454.07 L186.13 453.57 L186.54 453.04 L186.96 452.5 L187.37 451.93 L187.79 451.34 L188.21 450.74 L188.62 450.11 L189.04 449.46 L189.45 448.78 L189.87 448.09 L190.29 447.37 L190.7 446.63 L191.12 445.87 L191.53 445.08 L191.95 444.27 L192.37 443.44 L192.78 442.58 L193.2 441.7 L193.61 440.79 L194.03 439.86 L194.45 438.91 L194.86 437.93 L195.28 436.93 L195.69 435.9 L196.11 434.85 L196.53 433.78 L196.94 432.68 L197.36 431.55 L197.78 430.41 L198.19 429.24 L198.61 428.05 L199.02 426.83 L199.44 425.59 L199.86 424.33 L200.27 423.05 L200.69 421.75 L201.1 420.42 L201.52 419.08 L201.94 417.71 L202.35 416.33 L202.77 414.92 L203.18 413.5 L203.6 412.06 L204.02 410.61 L204.43 409.14 L204.85 407.65 L205.26 406.16 L205.68 404.64 L206.1 403.12 L206.51 401.58 L206.93 400.04 L207.34 398.49 L207.76 396.92 L208.18 395.35 L208.59 393.78 L209.01 392.2 L209.43 390.62 L209.84 389.04 L210.26 387.46 L210.67 385.87 L211.09 384.29 L211.51 382.72 L211.92 381.15 L212.34 379.58 L212.75 378.02 L213.17 376.48 L213.59 374.94 L214 373.42 L214.42 371.91 L214.83 370.41 L215.25 368.94 L215.67 367.48 L216.08 366.04 L216.5 364.62 L216.91 363.23 L217.33 361.86 L217.75 360.52 L218.16 359.2 L218.58 357.92 L218.99 356.66 L219.41 355.44 L219.83 354.24 L220.24 353.09 L220.66 351.97 L221.07 350.89 L221.49 349.84 L221.91 348.84 L222.32 347.87 L222.74 346.95 L223.16 346.07 L223.57 345.24 L223.99 344.45 L224.4 343.71 L224.82 343.02 L225.24 342.37 L225.65 341.77 L226.07 341.22 L226.48 340.73 L226.9 340.28 L227.32 339.88 L227.73 339.54 L228.15 339.25 L228.56 339.01 L228.98 338.83 L229.4 338.69 L229.81 338.61 L230.23 338.59 L230.64 338.62 L231.06 338.7 L231.48 338.84 L231.89 339.03 L232.31 339.27 L232.72 339.56 L233.14 339.91 L233.56 340.31 L233.97 340.76 L234.39 341.26 L234.81 341.82 L235.22 342.42 L235.64 343.07 L236.05 343.77 L236.47 344.51 L236.89 345.3 L237.3 346.14 L237.72 347.02 L238.13 347.95 L238.55 348.91 L238.97 349.92 L239.38 350.97 L239.8 352.05 L240.21 353.18 L240.63 354.34 L241.05 355.53 L241.46 356.76 L241.88 358.01 L242.29 359.3 L242.71 360.62 L243.13 361.97 L243.54 363.34 L243.96 364.73 L244.37 366.15 L244.79 367.59 L245.21 369.05 L245.62 370.53 L246.04 372.02 L246.46 373.54 L246.87 375.06 L247.29 376.6 L247.7 378.15 L248.12 379.7 L248.54 381.27 L248.95 382.84 L249.37 384.42 L249.78 386 L250.2 387.58 L250.62 389.16 L251.03 390.75 L251.45 392.33 L251.86 393.9 L252.28 395.48 L252.7 397.05 L253.11 398.61 L253.53 400.16 L253.94 401.71 L254.36 403.24 L254.78 404.77 L255.19 406.28 L255.61 407.78 L256.02 409.26 L256.44 410.73 L256.86 412.18 L257.27 413.62 L257.69 415.04 L258.11 416.44 L258.52 417.83 L258.94 419.19 L259.35 420.54 L259.77 421.86 L260.19 423.16 L260.6 424.45 L261.02 425.71 L261.43 426.94 L261.85 428.16 L262.27 429.35 L262.68 430.52 L263.1 431.67 L263.51 432.79 L263.93 433.89 L264.35 434.97 L264.76 436.02 L265.18 437.05 L265.59 438.05 L266.01 439.03 L266.43 439.99 L266.84 440.92 L267.26 441.83 L267.67 442.71 L268.09 443.57 L268.51 444.41 L268.92 445.23 L269.34 446.02 L269.76 446.79 L270.17 447.54 L270.59 448.26 L271 448.96 L271.42 449.65 L271.84 450.31 L272.25 450.94 L272.67 451.56 L273.08 452.16 L273.5 452.74 L273.92 453.3 L274.33 453.84 L274.75 454.36 L275.16 454.86 L275.58 455.35 L276 455.82 L276.41 456.27 L276.83 456.7 L277.24 457.12 L277.66 457.52 L278.08 457.91 L278.49 458.28 L278.91 458.63 L279.32 458.97 L279.74 459.3 L280.16 459.62 L280.57 459.92 L280.99 460.21 L281.41 460.48 L281.82 460.75 L282.24 461 L282.65 461.24 L283.07 461.48 L283.49 461.7 L283.9 461.91 L284.32 462.11 L284.73 462.3 L285.15 462.49 L285.57 462.66 L285.98 462.83 L286.4 462.99 L286.81 463.14 L287.23 463.28 L287.65 463.42 L288.06 463.55 L288.48 463.67 L288.89 463.79 L289.31 463.9 L289.73 464 L290.14 464.1 L290.56 464.2 L290.97 464.29 L291.39 464.37 L291.81 464.45 L292.22 464.53 L292.64 464.6 L293.06 464.67 L293.47 464.73 L293.89 464.79 L294.3 464.85 L294.72 464.9 L295.14 464.95 L295.55 465 L295.97 465.05 L296.38 465.09 L296.8 465.13 L297.22 465.16 L297.63 465.2 L298.05 465.23 L298.46 465.26" fill="none" stroke="#2800FF" stroke-width="3" stroke-dasharray="11.3 11.94" stroke-dashoffset="-0.45" clip-path="url(#cc)"/>
<rect x="36.5" y="274.0" width="274.0" height="191.7" fill="none" stroke="#777777" stroke-width="0.85"/>
<path d="M36.5 465.7h4.4M36.5 433.75h4.4M36.5 401.8h4.4M36.5 369.85h4.4M36.5 337.9h4.4M36.5 305.95h4.4M36.5 274h4.4M94.65 465.7v-4.2M175.05 465.7v-4.2M255.45 465.7v-4.2" stroke="#777777" stroke-width="1" fill="none"/>
<text x="30.9" y="469.1" text-anchor="end" class="t">0</text>
<text x="30.9" y="437.15" text-anchor="end" class="t">5</text>
<text x="30.9" y="405.2" text-anchor="end" class="t">10</text>
<text x="30.9" y="373.25" text-anchor="end" class="t">15</text>
<text x="30.9" y="341.3" text-anchor="end" class="t">20</text>
<text x="30.9" y="309.35" text-anchor="end" class="t">25</text>
<text x="30.9" y="277.4" text-anchor="end" class="t">30</text>
<text x="94.65" y="478.6" text-anchor="middle" class="t">−10</text>
<text x="175.05" y="478.6" text-anchor="middle" class="t">0</text>
<text x="255.45" y="478.6" text-anchor="middle" class="t">10</text>
<text x="173.4" y="495.3" text-anchor="middle" class="t" textLength="111.6" lengthAdjust="spacingAndGlyphs">Shift magnitude (fm)</text>
<text transform="translate(10.1 369.5) rotate(-90)" text-anchor="middle" class="t" style="font-size:11.6px" textLength="37.4" lengthAdjust="spacingAndGlyphs">Counts</text>
<text x="-0.4" y="263.7" class="p">c</text>
<path d="M395.3 465.9h2.48v-3.86h-2.48zM397.78 465.9h2.48v-1.93h-2.48zM400.26 465.9h2.48v-1.93h-2.48zM402.74 465.9h2.48v-3.86h-2.48zM405.22 465.9h2.48v-3.86h-2.48zM407.7 465.9h2.48v-11.58h-2.48zM410.19 465.9h2.48v-7.72h-2.48zM412.67 465.9h2.48v-11.58h-2.48zM415.15 465.9h2.48v-7.72h-2.48zM420.11 465.9h2.48v-11.58h-2.48zM422.59 465.9h2.48v-11.58h-2.48zM425.07 465.9h2.48v-17.37h-2.48zM427.55 465.9h2.48v-9.65h-2.48zM430.03 465.9h2.48v-13.51h-2.48zM432.51 465.9h2.48v-11.58h-2.48zM435 465.9h2.48v-32.81h-2.48zM437.48 465.9h2.48v-28.95h-2.48zM439.96 465.9h2.48v-23.16h-2.48zM442.44 465.9h2.48v-34.74h-2.48zM444.92 465.9h2.48v-44.39h-2.48zM447.4 465.9h2.48v-23.16h-2.48zM449.88 465.9h2.48v-52.11h-2.48zM452.36 465.9h2.48v-40.53h-2.48zM454.84 465.9h2.48v-54.04h-2.48zM457.32 465.9h2.48v-57.9h-2.48zM459.81 465.9h2.48v-52.11h-2.48zM462.29 465.9h2.48v-54.04h-2.48zM464.77 465.9h2.48v-42.46h-2.48zM467.25 465.9h2.48v-65.62h-2.48zM469.73 465.9h2.48v-82.99h-2.48zM472.21 465.9h2.48v-67.55h-2.48zM474.69 465.9h2.48v-63.69h-2.48zM477.17 465.9h2.48v-75.27h-2.48zM479.65 465.9h2.48v-77.2h-2.48zM482.13 465.9h2.48v-73.34h-2.48zM484.62 465.9h2.48v-86.85h-2.48zM487.1 465.9h2.48v-131.24h-2.48zM489.58 465.9h2.48v-94.57h-2.48zM492.06 465.9h2.48v-69.48h-2.48zM494.54 465.9h2.48v-79.13h-2.48zM497.02 465.9h2.48v-113.87h-2.48zM499.5 465.9h2.48v-100.36h-2.48zM501.98 465.9h2.48v-79.13h-2.48zM504.46 465.9h2.48v-102.29h-2.48zM506.94 465.9h2.48v-67.55h-2.48zM509.43 465.9h2.48v-106.15h-2.48zM511.91 465.9h2.48v-111.94h-2.48zM514.39 465.9h2.48v-94.57h-2.48zM516.87 465.9h2.48v-98.43h-2.48zM519.35 465.9h2.48v-71.41h-2.48zM521.83 465.9h2.48v-119.66h-2.48zM524.31 465.9h2.48v-65.62h-2.48zM526.79 465.9h2.48v-82.99h-2.48zM529.27 465.9h2.48v-67.55h-2.48zM531.75 465.9h2.48v-65.62h-2.48zM534.24 465.9h2.48v-65.62h-2.48zM536.72 465.9h2.48v-77.2h-2.48zM539.2 465.9h2.48v-63.69h-2.48zM541.68 465.9h2.48v-73.34h-2.48zM544.16 465.9h2.48v-69.48h-2.48zM546.64 465.9h2.48v-67.55h-2.48zM549.12 465.9h2.48v-61.76h-2.48zM551.6 465.9h2.48v-50.18h-2.48zM554.08 465.9h2.48v-54.04h-2.48zM556.57 465.9h2.48v-44.39h-2.48zM559.05 465.9h2.48v-36.67h-2.48zM561.53 465.9h2.48v-40.53h-2.48zM564.01 465.9h2.48v-42.46h-2.48zM566.49 465.9h2.48v-52.11h-2.48zM568.97 465.9h2.48v-48.25h-2.48zM571.45 465.9h2.48v-44.39h-2.48zM573.93 465.9h2.48v-34.74h-2.48zM576.41 465.9h2.48v-19.3h-2.48zM578.89 465.9h2.48v-28.95h-2.48zM581.38 465.9h2.48v-36.67h-2.48zM583.86 465.9h2.48v-11.58h-2.48zM586.34 465.9h2.48v-32.81h-2.48zM588.82 465.9h2.48v-17.37h-2.48zM591.3 465.9h2.48v-15.44h-2.48zM593.78 465.9h2.48v-7.72h-2.48zM596.26 465.9h2.48v-13.51h-2.48zM598.74 465.9h2.48v-9.65h-2.48zM601.22 465.9h2.48v-17.37h-2.48zM603.7 465.9h2.48v-13.51h-2.48zM606.18 465.9h2.48v-11.58h-2.48zM608.67 465.9h2.48v-7.72h-2.48zM611.15 465.9h2.48v-7.72h-2.48zM613.63 465.9h2.48v-13.51h-2.48zM616.11 465.9h2.48v-9.65h-2.48zM618.59 465.9h2.48v-7.72h-2.48zM621.07 465.9h2.48v-3.86h-2.48zM623.55 465.9h2.48v-1.93h-2.48zM626.03 465.9h2.48v-3.86h-2.48zM628.51 465.9h2.48v-5.79h-2.48zM633.48 465.9h2.48v-1.93h-2.48zM635.96 465.9h2.48v-3.86h-2.48zM638.44 465.9h2.48v-3.86h-2.48zM640.92 465.9h2.48v-3.86h-2.48zM643.4 465.9h2.48v-3.86h-2.48zM645.88 465.9h2.48v-1.93h-2.48zM648.36 465.9h2.48v-3.86h-2.48zM650.84 465.9h2.48v-1.93h-2.48z" fill="#FCAE00" stroke="#5e4400" stroke-width="0.5"/>
<path d="M503.6 465.9h1.7v-1.54h-1.7zM505.3 465.9h1.6v-12.74h-1.6zM506.9 465.9h1.2v-32.04h-1.2zM508.1 465.9h1.1v-76.04h-1.1zM509.2 465.9h1.3v-127.38h-1.3zM510.5 465.9h1.35v-166.37h-1.35zM511.85 465.9h1.5v-176.4h-1.5zM513.35 465.9h1.15v-123.52h-1.15zM514.5 465.9h1.2v-54.04h-1.2zM515.7 465.9h1.2v-38.6h-1.2zM516.9 465.9h1.2v-11.19h-1.2zM518.1 465.9h1.2v-3.09h-1.2z" fill="#2140AA" stroke="#1a2c88" stroke-width="0.4"/>
<path d="M380.5 272.6H660.5" stroke="#777777" stroke-width="0.85" fill="none"/>
<path d="M380.5 465.9H660.5" stroke="#777777" stroke-width="0.85" fill="none"/>
<path d="M380.5 272.3V466.2" stroke="#F7A13C" stroke-width="0.6" fill="none"/>
<path d="M660.5 272.3V466.2" stroke="#3355FA" stroke-width="0.6" fill="none"/>
<path d="M380.5 465.8h4.6M380.5 427.2h4.6M380.5 388.6h4.6M380.5 350h4.6M380.5 311.4h4.6M380.5 272.8h4.6" stroke="#F7A13C" stroke-width="0.75" fill="none"/>
<path d="M660.5 465.8h-4.6M660.5 427.2h-4.6M660.5 388.6h-4.6M660.5 350h-4.6M660.5 311.4h-4.6M660.5 272.8h-4.6" stroke="#3355FA" stroke-width="0.75" fill="none"/>
<path d="M413.02 465.9v-4.2M462.56 465.9v-4.2M512.1 465.9v-4.2M561.64 465.9v-4.2M611.18 465.9v-4.2M660.72 465.9v-4.2" stroke="#777777" stroke-width="1" fill="none"/>
<text x="374.8" y="469.2" text-anchor="end" class="t" style="fill:#F7A13C">0</text>
<text x="374.8" y="430.6" text-anchor="end" class="t" style="fill:#F7A13C">20</text>
<text x="374.8" y="392" text-anchor="end" class="t" style="fill:#F7A13C">40</text>
<text x="374.8" y="353.4" text-anchor="end" class="t" style="fill:#F7A13C">60</text>
<text x="374.8" y="314.8" text-anchor="end" class="t" style="fill:#F7A13C">80</text>
<text x="374.8" y="276.2" text-anchor="end" class="t" style="fill:#F7A13C">100</text>
<text x="666.3" y="469.2" class="t" style="fill:#3355FA">0</text>
<text x="666.3" y="430.6" class="t" style="fill:#3355FA">100</text>
<text x="666.3" y="392" class="t" style="fill:#3355FA">200</text>
<text x="666.3" y="353.4" class="t" style="fill:#3355FA">300</text>
<text x="666.3" y="314.8" class="t" style="fill:#3355FA">400</text>
<text x="666.3" y="276.2" class="t" style="fill:#3355FA">500</text>
<text x="413.02" y="478.6" text-anchor="middle" class="t">−4</text>
<text x="462.56" y="478.6" text-anchor="middle" class="t">−2</text>
<text x="512.1" y="478.6" text-anchor="middle" class="t">0</text>
<text x="561.64" y="478.6" text-anchor="middle" class="t">2</text>
<text x="611.18" y="478.6" text-anchor="middle" class="t">4</text>
<text x="660.72" y="478.6" text-anchor="middle" class="t">6</text>
<text x="520.7" y="495.3" text-anchor="middle" class="t" textLength="167.6" lengthAdjust="spacingAndGlyphs">Detrended beat frequency (fm)</text>
<text transform="translate(349.4 369) rotate(-90)" text-anchor="middle" class="t" style="fill:#F7A13C;font-size:11.6px" textLength="37.7" lengthAdjust="spacingAndGlyphs">Counts</text>
<text x="338.4" y="263.7" class="p" textLength="11.8" lengthAdjust="spacingAndGlyphs">d</text>
</svg>
</body></html>
